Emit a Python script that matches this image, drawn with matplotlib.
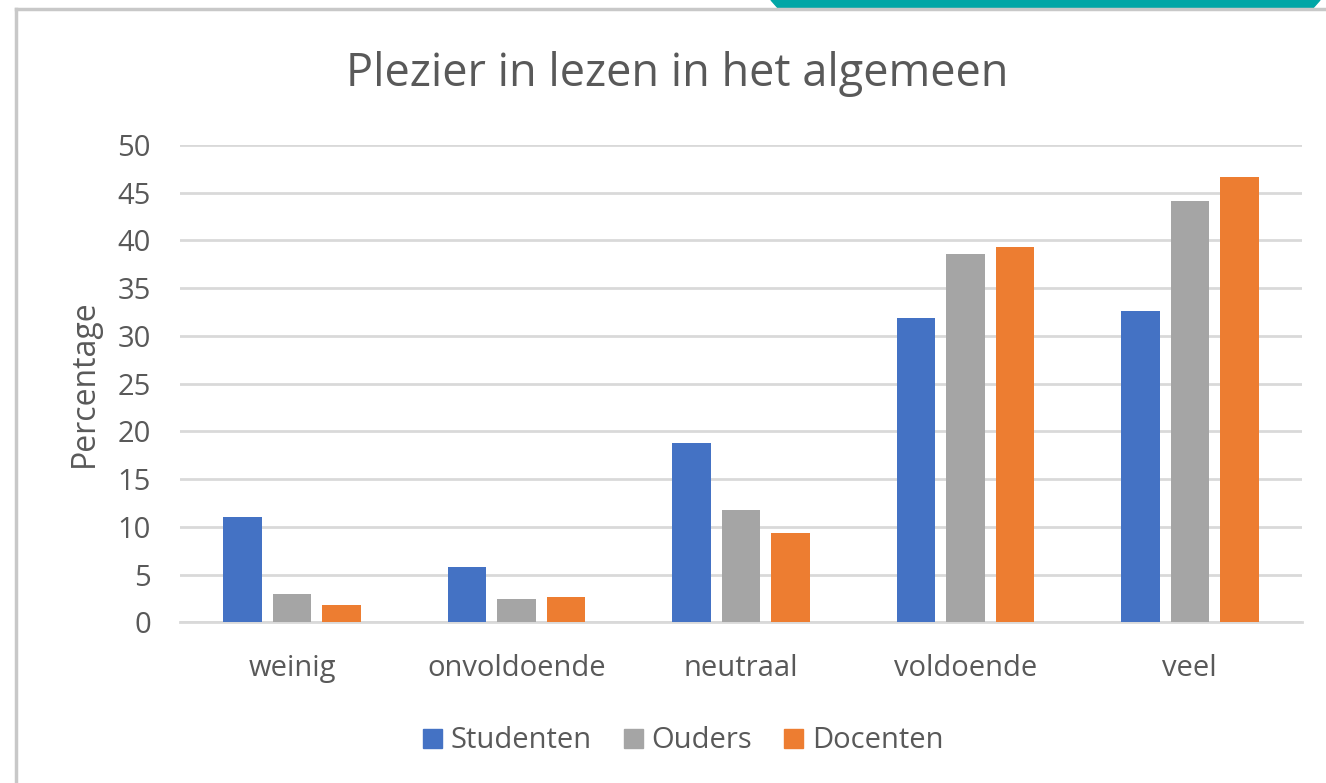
import matplotlib
matplotlib.use("Agg")
import matplotlib.pyplot as plt
import numpy as np
from matplotlib.patches import Polygon
from matplotlib.lines import Line2D

categories = ["weinig", "onvoldoende", "neutraal", "voldoende", "veel"]
series_names = ["Studenten", "Ouders", "Docenten"]
studenten = [11.0, 5.8, 18.8, 31.9, 32.6]
ouders = [3.0, 2.4, 11.8, 38.6, 44.1]
docenten = [1.8, 2.7, 9.4, 39.3, 46.6]
colors = ["#4472C4", "#A5A5A5", "#ED7D31"]
yticks = [0, 5, 10, 15, 20, 25, 30, 35, 40, 45, 50]

plt.rcParams['font.family'] = ['Open Sans', 'DejaVu Sans']
txt = "#595959"

W, H = 1326, 783
fig = plt.figure(figsize=(W/100, H/100), dpi=100)
ax = fig.add_axes([180/W, 1-622.3/H, (1302-180)/W, (622.3-145)/H])

x = np.arange(len(categories))
bw = 0.172
step = 0.221
for i, (vals, name) in enumerate(zip([studenten, ouders, docenten], series_names)):
    ax.bar(x + (i-1)*step, vals, width=bw, color=colors[i], label=name, zorder=3)

ax.set_xlim(-0.5, len(categories)-0.5)
ax.set_ylim(0, 50)
ax.set_yticks(yticks)
ax.set_yticklabels([str(t) for t in yticks])
ax.yaxis.grid(True, color="#d9d9d9", linewidth=2, zorder=0)
ax.set_axisbelow(True)
for s in ["top", "right", "left"]:
    ax.spines[s].set_visible(False)
ax.spines["bottom"].set_color("#d9d9d9")
ax.spines["bottom"].set_linewidth(2)
ax.tick_params(axis="both", length=0, labelsize=21, colors=txt)
ax.tick_params(axis="y", pad=21)
ax.tick_params(axis="x", pad=23)
ax.set_xticks(x)
ax.set_xticklabels(categories)
ax.set_ylabel("Percentage", fontsize=23, color=txt, labelpad=12)

fig.text(677/W, 1-74/H, "Plezier in lezen in het algemeen", ha="center", va="center",
         fontsize=32.5, color=txt)

handles = [plt.Rectangle((0, 0), 1, 1, color=c) for c in colors]
fig.legend(handles, series_names, loc="center", bbox_to_anchor=(683/W, 1-741/H),
           ncol=3, frameon=False, fontsize=21, labelcolor=txt,
           handlelength=0.65, handleheight=0.65, handletextpad=0.3, columnspacing=1.1)

# frame decorations
fig.add_artist(Line2D([16/W, 16/W], [0, 1-9/H], color="#c8c8c8", linewidth=2.5, transform=fig.transFigure))
fig.add_artist(Line2D([16/W, 1], [1-9/H, 1-9/H], color="#c8c8c8", linewidth=2.5, transform=fig.transFigure))
fig.add_artist(Polygon([[771/W, 1], [1320/W, 1], [1312/W, 1-9/H], [779/W, 1-9/H]],
                       closed=True, color="#00A6A6", transform=fig.transFigure))

fig.savefig("out.png", dpi=100)
